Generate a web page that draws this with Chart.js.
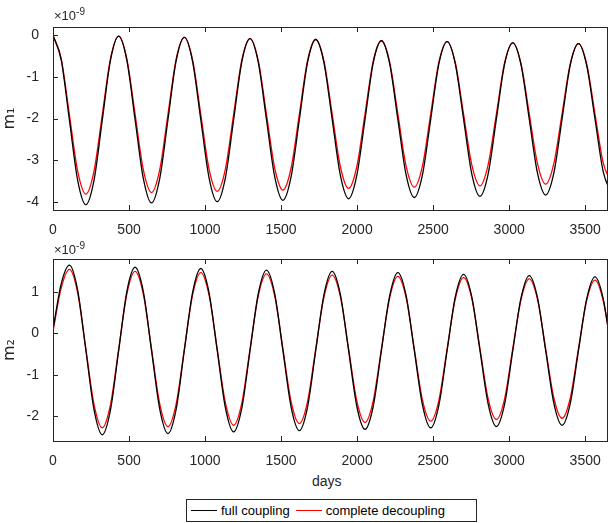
<!DOCTYPE html>
<html>
<head>
<meta charset="utf-8">
<script src="https://cdn.jsdelivr.net/npm/chart.js@4.4.0/dist/chart.umd.min.js"></script>
<style>
  body { margin: 0; background: #fff; font-family: "Liberation Sans", Arial, sans-serif; color: #262626; }
  #wrap { position: relative; width: 608px; height: 523px; }
  canvas { position: absolute; left: 0; }
  .lbl { position: absolute; }
  .exp { font-size: 13px; }
  .exp sup { font-size: 10px; }
  #legend { position: absolute; top: 499px; left: 186px; width: 291px; height: 23px; border: 1px solid #262626;
            font-size: 13px; display: flex; align-items: center; box-sizing: border-box; color: #000; }
  .sw { display: inline-block; width: 26px; height: 1.5px; margin: 0 4px 0 4px; }
</style>
</head>
<body>
<div id="wrap">
  <canvas id="c1"></canvas>
  <canvas id="c2"></canvas>
  <div class="lbl exp" style="top:6px;left:54px;">×10<sup>-9</sup></div>
  <div class="lbl exp" style="top:240px;left:54px;">×10<sup>-9</sup></div>
  <div class="lbl" style="top:473px;left:312px;font-size:14px;">days</div>
  <div id="legend"><span class="sw" style="background-color:#000000"></span>full coupling<span class="sw" style="background-color:#ff0000;margin-left:6px"></span>complete decoupling</div>
</div>
<script>
// days, every 54 days
var days = [0,54,108,162,216,270,324,378,432,486,540,594,648,702,756,810,864,918,972,1026,1080,1134,1188,1242,1296,1350,1404,1458,1512,1566,1620,1674,1728,1782,1836,1890,1944,1998,2052,2106,2160,2214,2268,2322,2376,2430,2484,2538,2592,2646,2700,2754,2808,2862,2916,2970,3024,3078,3132,3186,3240,3294,3348,3402,3456,3510,3564,3618,3672];

var m1Full = [0,-0.59,-2.04,-3.48,-4.07,-3.48,-2.04,-0.60,
  -0.02,-0.61,-2.03,-3.44,-4.03,-3.44,-2.03,-0.61,
  -0.05,-0.63,-2.03,-3.42,-4.00,-3.42,-2.03,-0.63,
  -0.08,-0.65,-2.03,-3.40,-3.97,-3.40,-2.03,-0.65,
  -0.10,-0.66,-2.02,-3.37,-3.93,-3.37,-2.02,-0.66,
  -0.13,-0.68,-2.02,-3.35,-3.90,-3.35,-2.02,-0.68,
  -0.15,-0.69,-2.01,-3.33,-3.87,-3.33,-2.01,-0.69,
  -0.18,-0.71,-2.01,-3.31,-3.84,-3.31,-2.01,-0.71,
  -0.20,-0.73,-2.00,-3.27,-3.80];
var m1Dec = [0,-0.56,-1.91,-3.26,-3.82,-3.26,-1.91,-0.56,
  -0.02,-0.57,-1.90,-3.23,-3.78,-3.23,-1.90,-0.57,
  -0.05,-0.59,-1.90,-3.21,-3.75,-3.21,-1.90,-0.59,
  -0.08,-0.61,-1.90,-3.19,-3.72,-3.19,-1.90,-0.61,
  -0.10,-0.62,-1.89,-3.16,-3.68,-3.16,-1.89,-0.62,
  -0.13,-0.64,-1.89,-3.14,-3.65,-3.14,-1.89,-0.64,
  -0.15,-0.66,-1.89,-3.11,-3.62,-3.11,-1.89,-0.66,
  -0.18,-0.68,-1.88,-3.08,-3.58,-3.08,-1.88,-0.68,
  -0.20,-0.69,-1.88,-3.06,-3.55];
var m2Full = [0.10,1.20,
  1.65,1.05,-0.40,-1.85,-2.45,-1.85,-0.41,1.02,
  1.60,1.01,-0.41,-1.83,-2.42,-1.83,-0.40,0.99,
  1.57,0.99,-0.41,-1.80,-2.38,-1.80,-0.41,0.96,
  1.53,0.96,-0.41,-1.78,-2.35,-1.78,-0.41,0.94,
  1.50,0.94,-0.41,-1.76,-2.32,-1.76,-0.41,0.91,
  1.47,0.92,-0.41,-1.73,-2.28,-1.73,-0.41,0.89,
  1.43,0.89,-0.41,-1.71,-2.25,-1.71,-0.41,0.86,
  1.40,0.87,-0.41,-1.69,-2.22,-1.69,-0.41,0.84,
  1.37,0.85,-0.41];
var m2Dec = [0.05,1.10,
  1.55,0.99,-0.37,-1.72,-2.28,-1.72,-0.38,0.96,
  1.50,0.95,-0.38,-1.70,-2.25,-1.70,-0.38,0.93,
  1.47,0.93,-0.38,-1.68,-2.22,-1.68,-0.37,0.91,
  1.44,0.91,-0.37,-1.65,-2.18,-1.65,-0.37,0.88,
  1.41,0.89,-0.37,-1.63,-2.15,-1.63,-0.37,0.86,
  1.38,0.87,-0.37,-1.61,-2.12,-1.61,-0.37,0.84,
  1.35,0.85,-0.37,-1.58,-2.08,-1.58,-0.36,0.82,
  1.32,0.83,-0.37,-1.56,-2.05,-1.56,-0.36,0.80,
  1.29,0.80,-0.36];

var xTicks = [0,500,1000,1500,2000,2500,3000,3500];
var y1Ticks = [-4,-3,-2,-1,0];
var y2Ticks = [-2,-1,0,1];

function pts(ys) { return ys.map(function(v, i) { return {x: days[i], y: v}; }); }

// box + inward ticks like matlab
var boxPlugin = {
  id: 'box',
  afterDraw: function(chart) {
    var a = chart.chartArea, c = chart.ctx;
    c.save();
    c.strokeStyle = '#262626'; c.lineWidth = 1;
    c.strokeRect(a.left + 0.5, a.top + 0.5, a.right - a.left - 1, a.bottom - a.top);
    var sx = chart.scales.x, sy = chart.scales.y;
    c.beginPath();
    xTicks.forEach(function(t) {
      var px = Math.round(sx.getPixelForValue(t)) + 0.5;
      c.moveTo(px, a.bottom); c.lineTo(px, a.bottom - 5);
      c.moveTo(px, a.top); c.lineTo(px, a.top + 5);
    });
    sy.ticks.forEach(function(t) {
      var py = Math.round(sy.getPixelForValue(t.value)) + 0.5;
      c.moveTo(a.left, py); c.lineTo(a.left + 5, py);
    });
    c.stroke();
    c.restore();
  }
};

function makeChart(id, top, h, padTop, axH, full, dec, ymin, ymax, yt, title) {
  var el = document.getElementById(id);
  el.style.top = top + 'px';
  el.width = 608; el.height = h;
  el.style.width = '608px'; el.style.height = h + 'px';
  return new Chart(el.getContext('2d'), {
    type: 'scatter',
    data: {
      datasets: [
        { data: pts(full), showLine: true, borderColor: '#000', borderWidth: 1.3, pointRadius: 0, cubicInterpolationMode: 'monotone' },
        { data: pts(dec), showLine: true, borderColor: '#ff0000', borderWidth: 1.3, pointRadius: 0, cubicInterpolationMode: 'monotone' }
      ]
    },
    options: {
      responsive: false, animation: false,
      layout: { padding: { top: padTop, right: 0, left: 0, bottom: 0 } },
      plugins: { legend: { display: false }, tooltip: { enabled: false } },
      scales: {
        x: {
          type: 'linear', min: 0, max: 3650,
          afterBuildTicks: function(ax) { ax.ticks = xTicks.map(function(v) { return {value: v}; }); },
          afterFit: function(ax) { ax.height = axH; },
          grid: { display: false }, border: { display: false },
          ticks: { color: '#262626', font: { size: 14, family: 'Liberation Sans' }, maxRotation: 0, padding: 4,
                   callback: function(v) { return String(v); } }
        },
        y: {
          min: ymin, max: ymax,
          afterBuildTicks: function(ax) { ax.ticks = yt.map(function(v) { return {value: v}; }); },
          afterFit: function(ax) { ax.width = 53; },
          grid: { display: false }, border: { display: false },
          title: { display: true, text: title, color: '#262626', font: { size: 16, family: 'DejaVu Sans' }, padding: 0 },
          ticks: { color: '#262626', font: { size: 14, family: 'Liberation Sans' }, padding: 6 }
        }
      }
    },
    plugins: [boxPlugin]
  });
}

makeChart('c1', 0, 235, 27, 25, m1Full, m1Dec, -4.2, 0.2, y1Ticks, 'm₁');
makeChart('c2', 235, 235, 24, 29, m2Full, m2Dec, -2.6, 1.8, y2Ticks, 'm₂');
</script>
</body>
</html>
